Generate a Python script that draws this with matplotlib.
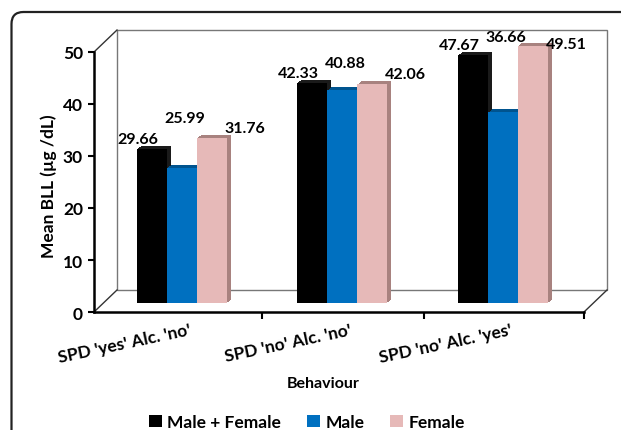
import matplotlib
matplotlib.use('Agg')
import numpy as np
import matplotlib.pyplot as plt
from matplotlib import transforms as mtransforms
from matplotlib.patches import Rectangle, FancyBboxPatch, Patch
from matplotlib.lines import Line2D

# Data
categories = ["SPD 'yes' Alc. 'no'", "SPD 'no' Alc. 'no'", "SPD 'no' Alc. 'yes'"]
both_vals = [29.66, 42.33, 47.67]
male_vals = [25.99, 40.88, 36.66]
female_vals = [31.76, 42.06, 49.51]
series_names = ['Male + Female', 'Male', 'Female']
yticks = [0, 10, 20, 30, 40, 50]

face_colors = ['#000000', '#0070C0', '#E6B9B8']
side_colors = ['#1a1a1a', '#00548f', '#A8827F']

plt.rcParams['font.family'] = ['Lato', 'DejaVu Sans']
plt.rcParams['font.weight'] = 'bold'

W, H = 621, 431
fig = plt.figure(figsize=(W / 100, H / 100), dpi=100)

# outer rounded frame (cropped at right and bottom)
frame = FancyBboxPatch((11.5, -30), 700, 418 + 30, boxstyle='round,pad=0,rounding_size=12',
                       transform=mtransforms.IdentityTransform(), fill=False,
                       edgecolor='#222222', linewidth=1.6)
fig.add_artist(frame)

# front plane axes
ax = fig.add_axes([94 / W, 1 - 313 / H, 490 / W, 260 / H])
x0, x1 = -0.488, 2.564
ax.set_xlim(x0, x1)
ax.set_ylim(0, 50)
ax.patch.set_visible(False)
for s in ['top', 'right']:
    ax.spines[s].set_visible(False)
for s in ['left', 'bottom']:
    ax.spines[s].set_linewidth(1.8)
    ax.spines[s].set_color('black')

ax.set_yticks(yticks)
ax.tick_params(axis='y', direction='out', length=4, width=1.5, pad=4, labelsize=12.5)
ax.set_xticks([0.56, 1.57, x1])
ax.set_xticklabels([])
ax.tick_params(axis='x', direction='out', length=5, width=1.5)

ax.set_ylabel('Mean BLL (µg /dL)', fontsize=12.5, fontweight='bold', va='center')
ax.yaxis.set_label_coords(-0.092, 0.488)

# back wall and floor, pushed back in depth
back = mtransforms.offset_copy(ax.transData, fig=fig, x=23, y=22, units='dots')
ax.add_patch(Rectangle((x0, 0), x1 - x0, 50, fill=False, edgecolor='#777777',
                       linewidth=1.0, transform=back, clip_on=False, zorder=0))
for (cx, cy) in [(x0, 0), (x0, 50), (x1, 0)]:
    p = ax.transData.transform((cx, cy))
    ax.add_line(Line2D([p[0], p[0] + 23], [p[1], p[1] + 22],
                       transform=mtransforms.IdentityTransform(),
                       color='#333333', linewidth=1.0, clip_on=False, zorder=0))

# bars sit in the middle of the depth
bx, by = 9.4, 9
bar_tr = mtransforms.offset_copy(ax.transData, fig=fig, x=bx, y=by, units='dots')
xpos = np.arange(len(categories))
bw = 0.187
all_vals = [both_vals, male_vals, female_vals]

for j, vals in enumerate(all_vals):
    xs = xpos + (j - 1) * bw
    # extrusion for the 3D look
    for k in range(1, 5):
        tr = mtransforms.offset_copy(ax.transData, fig=fig, x=bx + k, y=by + 0.75 * k, units='dots')
        ext = ax.bar(xs, vals, width=bw, color=side_colors[j], linewidth=0, zorder=2)
        for p in ext:
            p.set_transform(tr)
            p.set_clip_on(False)
    bars = ax.bar(xs, vals, width=bw, color=face_colors[j], linewidth=0, zorder=3)
    for p in bars:
        p.set_transform(bar_tr)
        p.set_clip_on(False)

# value labels
group_max = np.max(np.array(all_vals), axis=0)
lab_kw = dict(xycoords=bar_tr, textcoords='offset pixels', ha='center', va='center',
              fontsize=11.5, fontweight='bold', annotation_clip=False)
for i in range(len(categories)):
    ax.annotate(f'{both_vals[i]:.2f}', (xpos[i] - bw, min(both_vals[i] + 1.9, 49.6)),
                xytext=(-14, 0), **lab_kw)
    ax.annotate(f'{male_vals[i]:.2f}', (xpos[i], min(group_max[i] + 3.9, 51.2)),
                xytext=(3, 0), **lab_kw)
    ax.annotate(f'{female_vals[i]:.2f}', (xpos[i] + bw, min(female_vals[i] + 1.9, 49.8)),
                xytext=(33, 0), **lab_kw)

# category labels
lab_tr = mtransforms.offset_copy(ax.transData, fig=fig, x=17, y=-9, units='dots')
for i, c in enumerate(categories):
    ax.text(xpos[i], 0, c, transform=lab_tr, rotation=12, rotation_mode='anchor',
            ha='right', va='top', fontsize=12.5, fontweight='bold')

fig.text(323 / W, 1 - 384 / H, 'Behaviour', ha='center', va='center',
         fontsize=11.5, fontweight='bold')

handles = [Patch(facecolor=c, edgecolor='none') for c in face_colors]
fig.legend(handles, series_names, loc='center', bbox_to_anchor=(307 / W, 1 - 423 / H),
           ncol=3, frameon=False, fontsize=12.5, handlelength=0.75, handleheight=0.75,
           handletextpad=0.3, columnspacing=1.5, borderaxespad=0, borderpad=0)

fig.savefig('out.png', dpi=100)
